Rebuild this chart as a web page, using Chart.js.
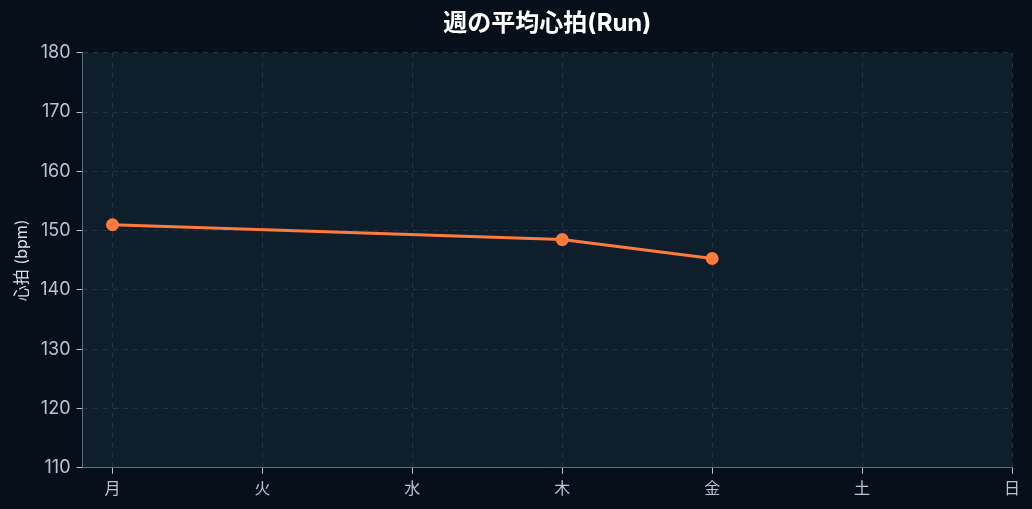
<!DOCTYPE html>
<html lang="ja">
<head>
<meta charset="utf-8">
<script src="https://cdn.jsdelivr.net/npm/chart.js@4.4.1/dist/chart.umd.min.js"></script>
<style>
  html, body { margin: 0; padding: 0; background: #07101a; }
  #wrap { width: 1032px; height: 509px; }
</style>
</head>
<body>
<div id="wrap"><canvas id="hrChart"></canvas></div>
<script>
const days = ["月", "火", "水", "木", "金", "土", "日"];
const avgHeartRate = [151, null, null, 148.5, 145.3, null, null];
const yTicks = [110, 120, 130, 140, 150, 160, 170, 180];

const FONT = "Inter, 'Noto Sans CJK JP', sans-serif";

// paint the plot area a bit lighter than the page
const plotBg = {
  id: "plotBg",
  beforeDraw: (chart) => {
    const { ctx, chartArea } = chart;
    ctx.save();
    ctx.fillStyle = "#0f1e2b";
    ctx.fillRect(chartArea.left, chartArea.top, chartArea.right - chartArea.left, chartArea.bottom - chartArea.top);
    ctx.restore();
  },
};

const points = [];
avgHeartRate.forEach((v, i) => {
  if (v !== null) points.push({ x: i, y: v });
});

new Chart(document.getElementById("hrChart"), {
  type: "line",
  data: {
    datasets: [
      {
        label: "平均心拍",
        data: points,
        borderColor: "#ff7a3d",
        backgroundColor: "#ff7a3d",
        borderWidth: 3,
        pointRadius: 5,
        pointHoverRadius: 6,
        tension: 0,
      },
    ],
  },
  options: {
    responsive: true,
    maintainAspectRatio: false,
    animation: false,
    layout: { padding: { left: 13, right: 20, top: 5, bottom: 4 } },
    scales: {
      x: {
        type: "linear",
        min: -0.2,
        max: days.length - 1,
        ticks: {
          stepSize: 1,
          includeBounds: false,
          color: "#b8c6d4",
          font: { family: FONT, size: 16 },
          padding: 6,
          callback: (value) => days[value] ?? "",
        },
        grid: {
          color: "#243444",
          tickColor: "#b8c6d4",
          tickLength: 6,
        },
        border: { color: "#5d6e7e", dash: [5, 5] },
      },
      y: {
        min: yTicks[0],
        max: yTicks[yTicks.length - 1],
        ticks: {
          stepSize: 10,
          color: "#b8c6d4",
          font: { family: FONT, size: 18 },
          padding: 6,
        },
        grid: {
          color: "#243444",
          tickColor: "#b8c6d4",
          tickLength: 6,
        },
        border: { color: "#5d6e7e", dash: [5, 5] },
        title: {
          display: true,
          text: "心拍 (bpm)",
          color: "#d8e1ea",
          font: { family: FONT, size: 16 },
          padding: { top: 0, bottom: 2 },
        },
      },
    },
    plugins: {
      legend: { display: false },
      title: {
        display: true,
        text: "週の平均心拍(Run)",
        color: "#ffffff",
        fullSize: false,
        font: { family: FONT, size: 24, weight: "bold" },
        padding: { top: 4, bottom: 15 },
      },
    },
  },
  plugins: [plotBg],
});
</script>
</body>
</html>
